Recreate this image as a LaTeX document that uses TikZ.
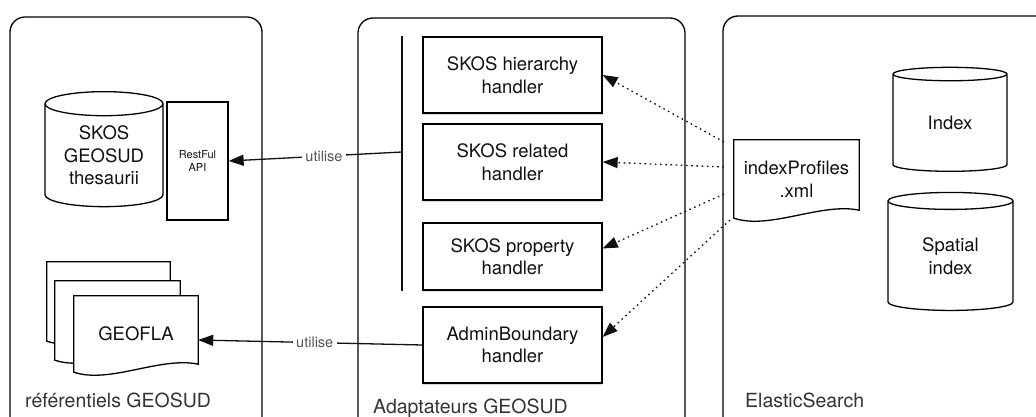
\documentclass[tikz,border=0pt]{standalone}
\usepackage{fontspec}
\setmainfont{TeX Gyre Heros}
\definecolor{txt}{HTML}{111111}
\definecolor{txtsub}{HTML}{555555}
\definecolor{lbltxt}{HTML}{333333}
\usetikzlibrary{arrows.meta,shapes.geometric,shadows,backgrounds}

\newcommand{\docoutline}[1]{%
  \draw[docln] (#1.south west) -- (#1.north west) -- (#1.north east)
    -- ([yshift=8pt]#1.south east)
    .. controls +(-38,-8) and +(36,12) .. (#1.south west) -- cycle;}

\begin{document}
\begin{tikzpicture}[x=1pt,y=-1pt,
    font=\fontsize{18.5}{22.5}\selectfont,color=txt,
    panel/.style={draw=black,line width=1.3pt,rounded corners=15pt},
    lbl/.style={anchor=base west,text=lbltxt,inner sep=0pt,
      font=\fontsize{19.5}{22}\selectfont},
    hdl/.style={draw=black,fill=white,line width=1.3pt,align=center,
      minimum width=179pt,minimum height=76pt,
      drop shadow={shadow xshift=0pt,shadow yshift=-2pt,opacity=.3}},
    db/.style={cylinder,shape border rotate=90,aspect=0.3,draw=black,
      line width=1.3pt,align=center,inner sep=0pt},
    doc/.style={align=center,inner sep=0pt},
    docln/.style={draw=black,fill=white,line width=1.3pt},
    api/.style={draw=black,line width=1.3pt,align=center,
      minimum width=61pt,minimum height=118pt,
      font=\fontsize{11}{13}\selectfont},
    ln/.style={line width=1.3pt},
    ar/.style={-{Triangle[length=15pt,width=11pt]},line width=1.3pt},
    dar/.style={ar,dash pattern=on 1.6pt off 3.6pt},
    use/.style={fill=white,text=txtsub,font=\fontsize{14.5}{16}\selectfont},
  ]
    \path[use as bounding box,clip] (0,0) rectangle (1036,417);

    \draw[panel] (10,17) rectangle (262,432);
    \draw[panel] (358,18) rectangle (685,432);
    \draw[panel] (723,16) rectangle (1052,432);
    \node[lbl] (reflbl) at (25,407) {référentiels GEOSUD};
    \node[lbl] (adalbl) at (373,413) {Adaptateurs GEOSUD};
    \node[lbl] (eslbl) at (745,407) {ElasticSearch};

    \node[db,minimum width=118pt,minimum height=115pt] (skos) at (104,155.5)
      {SKOS\\GEOSUD\\thesaurii};
    \node[api] (rest) at (197.5,161) {RestFul\\API};

    \node[doc,minimum width=123pt,minimum height=79pt] (geoflaC) at (108.5,301.5) {};
    \node[doc,minimum width=125pt,minimum height=79pt] (geoflaB) at (117.5,320.5) {};
    \node[doc,minimum width=124pt,minimum height=76pt] (geofla) at (136,334) {GEOFLA};

    \node[hdl] (h1) at (512.5,75) {SKOS hierarchy\\handler};
    \node[hdl] (h2) at (512.5,162) {SKOS related\\handler};
    \node[hdl,minimum height=67pt] (h3) at (512.5,256.5) {SKOS property\\handler};
    \node[hdl] (h4) at (512.5,345) {AdminBoundary\\handler};

    \coordinate (bartop) at (402,36);
    \coordinate (barbot) at (402,291);
    \coordinate (barmid) at (402,152);
    \draw[ln] (bartop) -- (barbot);

    \node[doc,minimum width=125pt,minimum height=78pt] (xml) at (796.5,179)
      {indexProfiles\\.xml};
    \node[db,minimum width=114pt,minimum height=104pt] (idx) at (950,123) {Index};
    \node[db,minimum width=125pt,minimum height=118pt] (sidx) at (950.5,256)
      {Spatial\\index};

    \begin{pgfonlayer}{background}
      \docoutline{geoflaC}
      \docoutline{geoflaB}
      \docoutline{geofla}
      \docoutline{xml}
    \end{pgfonlayer}

    \draw[ar] (barmid) -- (rest.east) node[use,pos=0.45] {utilise};
    \draw[ar] (h4.west) -- ([yshift=-6pt]geofla.east) node[use,pos=0.48] {utilise};

    \coordinate (p1) at (724,142);
    \coordinate (p2) at (724,167);
    \coordinate (p3) at (724,194);
    \coordinate (p4) at (730,220);
    \draw[dar] (p1) -- (h1.east);
    \draw[dar] (p2) -- (h2.east);
    \draw[dar] (p3) -- ([yshift=8pt]h3.east);
    \draw[dar] (p4) -- ([yshift=8pt]h4.east);
  \end{tikzpicture}
\end{document}
